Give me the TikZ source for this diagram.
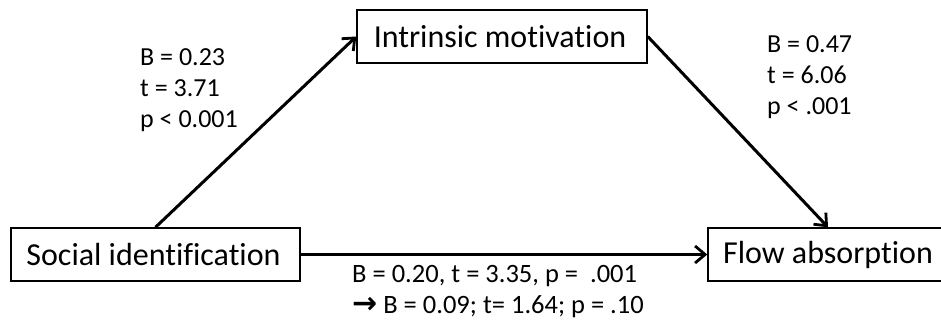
\documentclass[tikz,border=0pt]{standalone}
\usepackage{fontspec}
\setmainfont{Carlito}[Ligatures=NoCommon]
\newfontfamily\symfont{DejaVu Sans}
\usetikzlibrary{arrows.meta,calc}
\begin{document}
\begin{tikzpicture}[x=1pt,y=-1pt,
  varbox/.style={draw,line width=1.5pt,inner sep=0pt,minimum height=53pt,font=\fontsize{32}{38}\selectfont},
  conn/.style={line width=3pt,-{Straight Barb[length=10pt,width=17pt,line width=2.8pt]}},
  stat/.style={anchor=west,inner sep=0pt,align=left,font=\fontsize{26}{31}\selectfont}]
\useasboundingbox (0,0) rectangle (941,322);
\node[varbox,minimum width=289pt] (soc) at (155.5,254.5) {\hspace*{-4pt}Social identification};
\node[varbox,minimum width=290pt] (intr) at (502,36.5) {\hspace*{-4pt}Intrinsic motivation};
\node[varbox,minimum width=240pt] (flow) at (828,254.5) {Flow absorption};
\draw[conn] (soc.north) -- (intr.west);
\draw[conn] (intr.east) -- (flow.north);
\draw[conn] (soc.east) -- (flow.west);
\node[stat] (l1) at (140,90) {B = 0.23\\t = 3.71\\p < 0.001};
\node[stat] (l2) at (767,77) {B = 0.47\\t = 6.06\\p < .001};
\node[stat,font=\fontsize{26.5}{31}\selectfont] (l3) at (352,292) {B = 0.20, t = 3.35, p =\ \ .001\\{\symfont\bfseries\fontsize{30}{31}\selectfont →}\ B = 0.09; t= 1.64; p = .10};
\end{tikzpicture}
\end{document}
